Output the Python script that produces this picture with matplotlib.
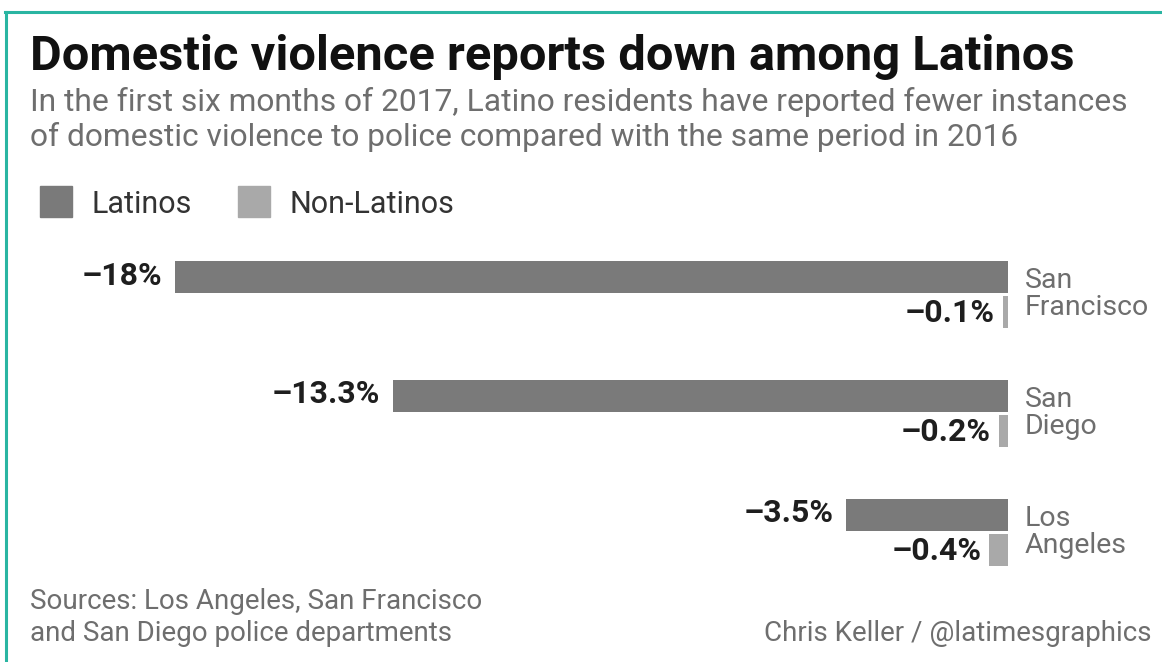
import numpy as np
import matplotlib.pyplot as plt
from matplotlib.lines import Line2D

# data
cities = ["San\nFrancisco", "San\nDiego", "Los\nAngeles"]
latino = [-18, -13.3, -3.5]
non_latino = [-0.1, -0.2, -0.4]
series_names = ["Latinos", "Non-Latinos"]

c_lat = "#7a7a7a"
c_non = "#a9a9a9"
c_grey_text = "#6e6e6e"
c_dark = "#1e1e1e"
teal = "#2ab5a2"

W, H = 1162, 662
fig = plt.figure(figsize=(W / 100, H / 100), dpi=100)
fig.patch.set_facecolor("white")

def fx(px):
    return px / W

def fy(px):
    return 1 - px / H

# teal frame (top and left only)
fig.add_artist(Line2D([fx(5), 1], [fy(12), fy(12)], color=teal, lw=2.2))
fig.add_artist(Line2D([fx(6), fx(6)], [fy(12), 0], color=teal, lw=2.2))

plt.rcParams['font.family'] = ['Roboto', 'DejaVu Sans']

# title / subtitle
fig.text(fx(30), fy(70), "Domestic violence reports down among Latinos",
         fontsize=35.2, fontweight="bold", color="#111111", va="baseline")
fig.text(fx(30), fy(111), "In the first six months of 2017, Latino residents have reported fewer instances",
         fontsize=22.9, color=c_grey_text, va="baseline")
fig.text(fx(30), fy(146), "of domestic violence to police compared with the same period in 2016",
         fontsize=22.9, color=c_grey_text, va="baseline")

# legend
for x0, col, name in [(40, c_lat, series_names[0]), (238, c_non, series_names[1])]:
    fig.patches.append(plt.Rectangle((fx(x0), fy(217)), fx(32), 31 / H,
                                     transform=fig.transFigure, color=col, figure=fig))
    fig.text(fx(x0 + 52), fy(213), name, fontsize=22, color="#333333", va="baseline")

# bars
ax = fig.add_axes([fx(175), fy(591.4), fx(1008 - 175), 356.3 / H])
y = np.arange(len(cities))
off = 17.5 / 118.75
h = 32 / 118.75
ax.barh(y - off, latino, height=h, color=c_lat)
ax.barh(y + off, non_latino, height=h, color=c_non)
ax.set_xlim(-18, 0)
ax.set_ylim(2.5, -0.5)
ax.axis("off")

for yy, v in zip(y - off, latino):
    ax.annotate(f"–{abs(v):g}%", (v, yy), xytext=(-9, 1), textcoords="offset points",
                ha="right", va="center", fontsize=23, fontweight="bold", color=c_dark)
for yy, v in zip(y + off, non_latino):
    ax.annotate(f"–{abs(v):g}%", (v, yy), xytext=(-6, -1), textcoords="offset points",
                ha="right", va="center", fontsize=23, fontweight="bold", color=c_dark)
for yy, name in zip(y, cities):
    ax.annotate(name, (0, yy), xytext=(12, 0), textcoords="offset points",
                ha="left", va="center", fontsize=20.5, color=c_grey_text, linespacing=1.0)

# footer
fig.text(fx(30), fy(609), "Sources: Los Angeles, San Francisco", fontsize=20,
         color=c_grey_text, va="baseline")
fig.text(fx(30), fy(641), "and San Diego police departments", fontsize=20,
         color=c_grey_text, va="baseline")
fig.text(fx(1152), fy(641), "Chris Keller / @latimesgraphics", fontsize=20,
         color=c_grey_text, va="baseline", ha="right")

fig.savefig("out.png", dpi=100, facecolor="white")
